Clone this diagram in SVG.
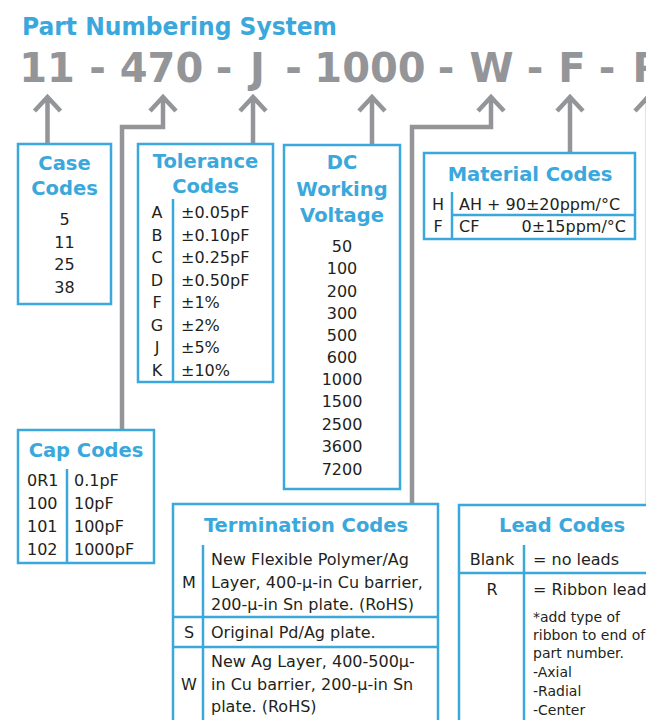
<svg xmlns="http://www.w3.org/2000/svg" width="646" height="720" viewBox="0 0 646 720">
<style>
.box{fill:#fff;stroke:#3aa8dc;stroke-width:2.5}
.div{stroke:#3aa8dc;stroke-width:2.5;fill:none}
.hd{font-family:"DejaVu Sans",Verdana,sans-serif;font-weight:bold;font-size:19.5px;fill:#3aa8dc;text-anchor:middle}
.t{font-family:"DejaVu Sans",Verdana,sans-serif;font-size:16px;fill:#231f20}
.c{text-anchor:middle}
.e{text-anchor:end}
.s{font-size:14px}
.pn{font-family:"DejaVu Sans",Verdana,sans-serif;font-weight:bold;font-size:40px;fill:#939598;text-anchor:middle}
.con{fill:none;stroke:#939598;stroke-width:4.5;stroke-linejoin:miter}
</style>
<rect width="646" height="720" fill="#fff"/>
<text x="22" y="35" font-family="'DejaVu Sans',Verdana,sans-serif" font-weight="bold" font-size="24" fill="#3aa8dc" textLength="315" lengthAdjust="spacingAndGlyphs">Part Numbering System</text>
<g id="partnumber">
<text class="pn" x="47" y="82">11</text>
<text class="pn" x="97.5" y="82">-</text>
<text class="pn" x="161.5" y="82">470</text>
<text class="pn" x="224" y="82">-</text>
<text class="pn" x="257.5" y="82">J</text>
<text class="pn" x="293.5" y="82">-</text>
<text class="pn" x="370" y="82">1000</text>
<text class="pn" x="446" y="82">-</text>
<text class="pn" x="491.5" y="82">W</text>
<text class="pn" x="535" y="82">-</text>
<text class="pn" x="572" y="82">F</text>
<text class="pn" x="607" y="82">-</text>
<text class="pn" x="648" y="82">R</text>
</g>
<g id="connectors">
<path class="con" d="M47.5,97V145M34.5,111L47.5,97L60.5,111"/>
<path class="con" d="M163,97V127H122V431M150,111L163,97L176,111"/>
<path class="con" d="M253,97V145M240,111L253,97L266,111"/>
<path class="con" d="M372,97V146M359,111L372,97L385,111"/>
<path class="con" d="M491,97V127H412V505M478,111L491,97L504,111"/>
<path class="con" d="M570,97V154M557,111L570,97L583,111"/>
<path class="con" d="M648,97V506M635,111L648,97L661,111"/>
</g>
<g id="case">
<rect class="box" x="18" y="144" width="93" height="160"/>
<text class="hd" x="64.5" y="170">Case</text>
<text class="hd" x="64.5" y="195">Codes</text>
<text class="t c" x="64.5" y="225">5</text>
<text class="t c" x="64.5" y="248">11</text>
<text class="t c" x="64.5" y="270">25</text>
<text class="t c" x="64.5" y="293">38</text>
</g>
<g id="tolerance">
<rect class="box" x="138" y="144" width="135" height="238"/>
<text class="hd" x="205.5" y="168">Tolerance</text>
<text class="hd" x="205.5" y="193">Codes</text>
<line class="div" x1="173" y1="199" x2="173" y2="382"/>
<text class="t c" x="157" y="218">A</text><text class="t" x="181" y="218">±0.05pF</text>
<text class="t c" x="157" y="241">B</text><text class="t" x="181" y="241">±0.10pF</text>
<text class="t c" x="157" y="263">C</text><text class="t" x="181" y="263">±0.25pF</text>
<text class="t c" x="157" y="286">D</text><text class="t" x="181" y="286">±0.50pF</text>
<text class="t c" x="157" y="308">F</text><text class="t" x="181" y="308">±1%</text>
<text class="t c" x="157" y="331">G</text><text class="t" x="181" y="331">±2%</text>
<text class="t c" x="157" y="353">J</text><text class="t" x="181" y="353">±5%</text>
<text class="t c" x="157" y="376">K</text><text class="t" x="181" y="376">±10%</text>
</g>
<g id="dc">
<rect class="box" x="284" y="145" width="116" height="344"/>
<text class="hd" x="342" y="169">DC</text>
<text class="hd" x="342" y="196">Working</text>
<text class="hd" x="342" y="222">Voltage</text>
<text class="t c" x="342" y="252">50</text>
<text class="t c" x="342" y="274">100</text>
<text class="t c" x="342" y="296.5">200</text>
<text class="t c" x="342" y="319">300</text>
<text class="t c" x="342" y="341">500</text>
<text class="t c" x="342" y="363">600</text>
<text class="t c" x="342" y="385">1000</text>
<text class="t c" x="342" y="407">1500</text>
<text class="t c" x="342" y="430">2500</text>
<text class="t c" x="342" y="452">3600</text>
<text class="t c" x="342" y="475">7200</text>
</g>
<g id="material">
<rect class="box" x="424" y="153" width="211" height="86"/>
<text class="hd" x="530" y="181">Material Codes</text>
<line class="div" x1="452" y1="192" x2="452" y2="239"/>
<line class="div" x1="452" y1="215" x2="635" y2="215"/>
<text class="t c" x="438" y="210">H</text>
<text class="t" x="459" y="210">AH + 90±20ppm/°C</text>
<text class="t c" x="438" y="232">F</text>
<text class="t" x="459" y="232">CF</text>
<text class="t e" x="626" y="232">0±15ppm/°C</text>
</g>
<g id="cap">
<rect class="box" x="18" y="430" width="136" height="133"/>
<text class="hd" x="86" y="457">Cap Codes</text>
<line class="div" x1="67" y1="469" x2="67" y2="563"/>
<text class="t" x="27" y="486">0R1</text><text class="t" x="74" y="486">0.1pF</text>
<text class="t" x="27" y="509">100</text><text class="t" x="74" y="509">10pF</text>
<text class="t" x="27" y="532">101</text><text class="t" x="74" y="532">100pF</text>
<text class="t" x="27" y="555">102</text><text class="t" x="74" y="555">1000pF</text>
</g>
<g id="termination">
<rect class="box" x="173" y="504" width="265" height="230"/>
<text class="hd" x="306" y="532">Termination Codes</text>
<line class="div" x1="203" y1="545" x2="203" y2="720"/>
<line class="div" x1="173" y1="617" x2="438" y2="617"/>
<line class="div" x1="173" y1="647" x2="438" y2="647"/>
<text class="t c" x="189" y="588">M</text>
<text class="t" x="211" y="565">New Flexible Polymer/Ag</text>
<text class="t" x="211" y="588">Layer, 400-μ-in Cu barrier,</text>
<text class="t" x="211" y="610">200-μ-in Sn plate. (RoHS)</text>
<text class="t c" x="189" y="638">S</text>
<text class="t" x="211" y="638">Original Pd/Ag plate.</text>
<text class="t c" x="189" y="690">W</text>
<text class="t" x="211" y="667">New Ag Layer, 400-500μ-</text>
<text class="t" x="211" y="690">in Cu barrier, 200-μ-in Sn</text>
<text class="t" x="211" y="712">plate. (RoHS)</text>
</g>
<g id="lead">
<rect class="box" x="459" y="505" width="210" height="230"/>
<text class="hd" x="562" y="532">Lead Codes</text>
<line class="div" x1="524" y1="545" x2="524" y2="720"/>
<line class="div" x1="459" y1="573" x2="669" y2="573"/>
<text class="t c" x="492" y="565">Blank</text>
<text class="t" x="533" y="565">= no leads</text>
<text class="t c" x="492" y="595">R</text>
<text class="t" x="533" y="595">= Ribbon leads</text>
<text class="t s" x="533" y="622">*add type of</text>
<text class="t s" x="533" y="640">ribbon to end of</text>
<text class="t s" x="533" y="658">part number.</text>
<text class="t s" x="533" y="677">-Axial</text>
<text class="t s" x="533" y="696">-Radial</text>
<text class="t s" x="533" y="715">-Center</text>
</g>
</svg>
